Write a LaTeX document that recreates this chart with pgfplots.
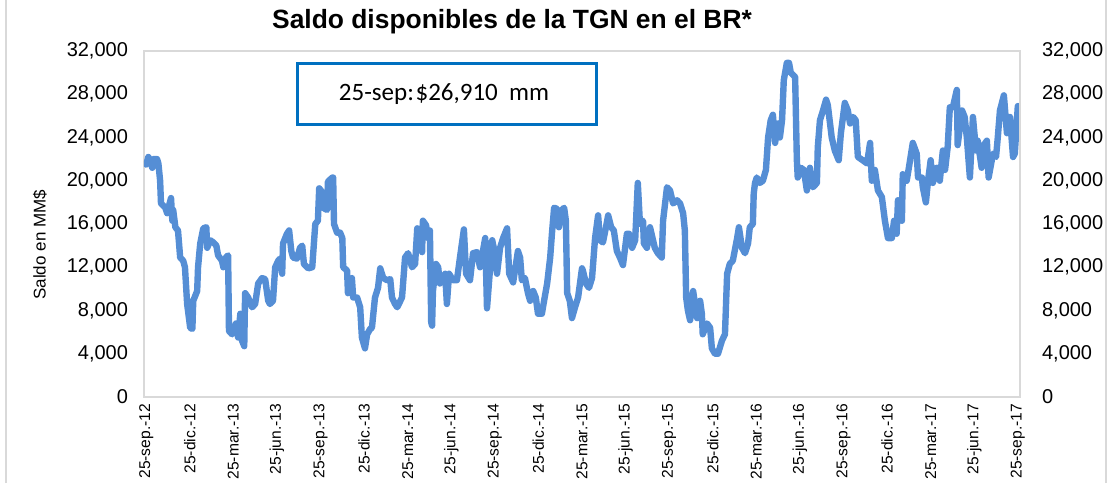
\documentclass[border=0pt]{standalone}
\usepackage{pgfplots}
\pgfplotsset{compat=1.18}
\usepackage{pgfplotstable}
\usepackage{fontspec}
\setmainfont{Liberation Sans}
\newfontfamily\calibri{Carlito}
\definecolor{serie}{RGB}{85,142,213}
\definecolor{marco}{RGB}{217,217,217}
\definecolor{caja}{RGB}{0,112,192}

% x: trimestres desde 25-sep-12; y: saldo en MM$
\pgfplotstableread{
x y
0.00 21500
0.05 22200
0.14 21200
0.16 22000
0.25 22000
0.28 21600
0.32 20000
0.34 17900
0.44 17500
0.48 17000
0.57 18400
0.60 16300
0.62 17300
0.67 15700
0.73 15400
0.78 12900
0.85 12600
0.89 12000
0.94 8600
1.01 6400
1.06 6300
1.08 8900
1.17 9800
1.19 12000
1.24 14200
1.31 15600
1.38 15700
1.40 13800
1.47 14500
1.54 14300
1.61 14000
1.65 13100
1.74 12600
1.77 12000
1.83 12900
1.88 13100
1.90 6100
1.97 5800
2.06 6800
2.11 5500
2.16 7700
2.20 5200
2.25 4700
2.27 9600
2.34 9200
2.43 8300
2.50 8600
2.57 10500
2.66 11000
2.73 10900
2.80 8900
2.84 8600
2.91 8900
2.96 12000
3.03 12600
3.07 12800
3.12 11400
3.14 14200
3.23 15100
3.28 15400
3.33 13500
3.37 12900
3.46 12800
3.53 13800
3.58 14000
3.62 12300
3.72 11900
3.81 12000
3.88 16000
3.94 16300
3.97 19300
4.01 19100
4.06 17500
4.15 17300
4.17 19900
4.27 20300
4.29 20300
4.31 16000
4.38 15200
4.45 15200
4.50 14700
4.52 12000
4.61 11700
4.63 9600
4.72 11000
4.75 9200
4.84 9200
4.91 8300
4.95 5500
5.02 4500
5.07 5800
5.14 6300
5.18 6400
5.25 9200
5.32 10100
5.37 11900
5.44 11000
5.53 10800
5.60 10900
5.64 9200
5.71 8600
5.76 8300
5.87 9200
5.94 12900
6.01 13300
6.10 12000
6.17 12300
6.22 15600
6.28 14500
6.33 13400
6.35 16300
6.42 15900
6.47 14700
6.51 15400
6.54 6900
6.56 6600
6.58 9800
6.65 12300
6.70 12000
6.74 10500
6.81 11000
6.86 11400
6.90 8600
6.95 11400
7.04 10800
7.13 10800
7.20 12900
7.29 15500
7.34 11400
7.43 10800
7.50 13300
7.59 13400
7.66 12000
7.78 14700
7.82 8200
7.87 10800
7.94 14500
8.00 13300
8.05 11400
8.12 13800
8.19 14700
8.28 15600
8.33 11400
8.42 10600
8.53 13500
8.58 12900
8.62 10800
8.69 11000
8.76 9600
8.81 8900
8.88 9800
8.94 9200
8.99 7700
9.08 7700
9.13 8900
9.20 10500
9.27 12900
9.31 15100
9.36 17500
9.43 17400
9.47 15700
9.54 17300
9.59 17500
9.63 16300
9.66 9600
9.72 8900
9.77 7300
9.84 8300
9.91 9200
10.00 11900
10.02 11700
10.09 10500
10.16 10100
10.23 11000
10.30 14700
10.37 16800
10.41 14500
10.48 14300
10.55 15700
10.60 16800
10.67 15700
10.73 15400
10.80 13500
10.87 12900
10.94 12200
11.03 15100
11.08 15100
11.15 13800
11.22 14500
11.28 19800
11.33 16000
11.40 16300
11.42 14200
11.49 13800
11.56 15700
11.63 14500
11.67 13800
11.74 13300
11.83 12900
11.86 16300
11.95 19400
12.02 19100
12.09 17900
12.18 18200
12.25 17900
12.32 17000
12.36 15400
12.39 9200
12.43 8000
12.48 7100
12.55 9800
12.64 7300
12.71 8900
12.75 7700
12.77 5800
12.87 6800
12.94 6400
12.98 4500
13.05 4000
13.12 4000
13.21 5200
13.28 5800
13.33 11400
13.39 12300
13.46 12600
13.56 14700
13.60 15700
13.67 13800
13.74 13300
13.81 14200
13.85 15700
13.92 16000
13.94 18800
13.97 19800
14.01 20300
14.08 19800
14.15 20000
14.22 21000
14.27 24000
14.33 25600
14.38 26100
14.43 23500
14.50 25300
14.54 24000
14.59 25600
14.63 29300
14.70 30900
14.75 30900
14.79 30000
14.89 29600
14.93 21900
14.95 20300
15.02 21200
15.09 21000
15.16 19100
15.23 21200
15.30 19400
15.39 19800
15.41 23100
15.46 25600
15.53 26500
15.60 27500
15.64 27000
15.73 24000
15.80 22800
15.89 21900
15.94 24400
16.03 27200
16.10 26500
16.15 25300
16.22 25900
16.28 25600
16.33 22200
16.44 21900
16.54 21600
16.61 23500
16.65 20000
16.72 21000
16.79 19100
16.88 18500
16.95 16300
17.02 14700
17.11 14700
17.16 16300
17.22 15100
17.25 18200
17.34 16300
17.36 20600
17.45 20000
17.50 21200
17.59 23500
17.68 22500
17.71 20300
17.80 20300
17.82 19400
17.89 18000
17.94 20000
18.00 21900
18.05 19800
18.14 21200
18.21 20000
18.28 22800
18.33 21000
18.39 23100
18.44 26800
18.51 26800
18.60 28400
18.62 23300
18.72 26500
18.78 25900
18.83 24000
18.90 20300
18.97 25900
19.04 22800
19.08 23700
19.17 21200
19.22 23300
19.29 23700
19.33 20300
19.43 22500
19.50 22200
19.54 24000
19.59 26500
19.68 27900
19.75 24400
19.82 25900
19.89 22200
19.93 22500
20.00 26910
}\saldo

\pgfplotsset{
  ejes/.style={
    at={(0,0)}, anchor=south west,
    scale only axis, width=438pt, height=173pt,
    xmin=-0.05, xmax=20.05,
    ymin=0, ymax=32000,
    ytick={0,4000,...,32000},
    scaled y ticks=false,
    major tick length=0pt,
    axis line style={marco, line width=1pt},
    /pgf/number format/1000 sep={,},
    /pgf/number format/assume math mode=true,
    yticklabel style={font=\fontsize{10}{12}\selectfont},
  },
}

\begin{document}
\begin{tikzpicture}[x=1pt,y=1pt]
\useasboundingbox (-72,-43) rectangle (484,198.5);
\draw[marco, line width=0.8pt] (-69,-43) -- (-69,198.5);
\draw[marco, line width=0.8pt] (481,-43) -- (481,198.5);

\begin{axis}[
  ejes,
  xtick={0,...,20},
  xticklabels={25-sep.-12,25-dic.-12,25-mar.-13,25-jun.-13,25-sep.-13,25-dic.-13,25-mar.-14,25-jun.-14,25-sep.-14,25-dic.-14,25-mar.-15,25-jun.-15,25-sep.-15,25-dic.-15,25-mar.-16,25-jun.-16,25-sep.-16,25-dic.-16,25-mar.-17,25-jun.-17,25-sep.-17},
  x tick label style={rotate=90, anchor=east, font=\fontsize{7.8}{9}\selectfont},
  yticklabel style={xshift=-4.5pt},
  ylabel={Saldo en MM\$},
  every axis y label/.style={at={(rel axis cs:0,0.44)}, xshift=-52pt, rotate=90, anchor=center, font=\fontsize{8.5}{10}\selectfont},
]
\addplot[serie, line width=3.2pt, line join=round, line cap=round] table[x=x, y=y] {\saldo};
\end{axis}

\begin{axis}[
  ejes,
  hide x axis,
  axis y line*=right,
  yticklabel style={xshift=7.5pt},
]
\addplot[draw=none] coordinates {(0,0)};
\end{axis}

\node[font=\bfseries\fontsize{13.2}{15}\selectfont] at (184,187.5) {Saldo disponibles de la TGN en el BR*};
\draw[caja, line width=1.5pt, fill=white] (76.5,136.5) rectangle (226,166.5);
\node[font=\calibri\fontsize{12.5}{14}\selectfont] at (150,151.5) {25-sep:\hspace{0.8pt}\$26,910\ \ mm};
\end{tikzpicture}
\end{document}
